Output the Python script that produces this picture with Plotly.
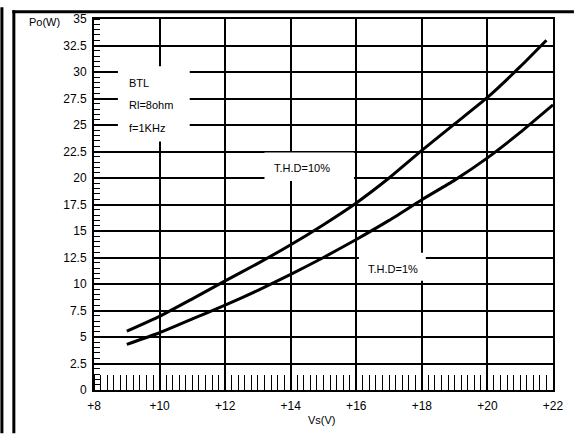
import plotly.graph_objects as go

# Supply voltage (V) and output power (W) at the two distortion limits
vs_thd10 = [9, 10, 11, 12, 13, 14, 15, 16, 17, 18, 19, 20, 21, 21.8]
po_thd10 = [5.55, 6.95, 8.6, 10.3, 11.95, 13.7, 15.6, 17.65, 20.0, 22.6, 25.1, 27.6, 30.5, 33.0]

vs_thd1 = [9, 10, 11, 12, 13, 14, 15, 16, 17, 18, 19, 20, 21, 22]
po_thd1 = [4.3, 5.4, 6.7, 8.0, 9.4, 10.9, 12.5, 14.2, 16.0, 17.95, 19.8, 21.9, 24.3, 26.9]

x_tick_vals = [8, 10, 12, 14, 16, 18, 20, 22]
x_tick_text = ["+8", "+10", "+12", "+14", "+16", "+18", "+20", "+22"]
y_tick_vals = [0, 2.5, 5, 7.5, 10, 12.5, 15, 17.5, 20, 22.5, 25, 27.5, 30, 32.5, 35]
y_tick_text = ["0", "2.5", "5", "7.5", "10", "12.5", "15", "17.5", "20", "22.5", "25", "27.5", "30", "32.5", "35"]

conditions = ["BTL", "Rl=8ohm", "f=1KHz"]
curve_labels = ["T.H.D=10%", "T.H.D=1%"]

W, H = 576, 434
ML, MR, MT, MB = 94, 21, 12, 44
PW, PH = W - ML - MR, H - MT - MB
FONT = "Liberation Sans, Arial, sans-serif"


def px_x(px):
    return (px - ML) / PW


def px_y(py):
    return (H - MB - py) / PH


fig = go.Figure()
for xs, ys in ((vs_thd10, po_thd10), (vs_thd1, po_thd1)):
    fig.add_trace(go.Scatter(
        x=xs, y=ys, mode="lines",
        line=dict(color="#000000", width=3, shape="spline", smoothing=0.5),
        showlegend=False, hoverinfo="skip",
    ))

shapes = []
# white panels behind the in-plot labels
for x0, x1, y0, y1 in ((8.73, 10.92, 23.45, 30.55),
                       (13.2, 15.93, 19.72, 22.4),
                       (16.08, 18.12, 10.3, 12.95)):
    shapes.append(dict(type="rect", xref="x", yref="y", x0=x0, x1=x1, y0=y0, y1=y1,
                       fillcolor="white", line=dict(width=0), layer="above"))

# page frame: double rule on the left, heavy rule across the top
shapes.append(dict(type="line", xref="paper", yref="paper",
                   x0=px_x(1.5), x1=px_x(1.5), y0=px_y(H), y1=px_y(0),
                   line=dict(color="black", width=3)))
shapes.append(dict(type="line", xref="paper", yref="paper",
                   x0=px_x(13.5), x1=px_x(13.5), y0=px_y(H), y1=px_y(3),
                   line=dict(color="black", width=3)))
shapes.append(dict(type="line", xref="paper", yref="paper",
                   x0=px_x(12), x1=px_x(W), y0=px_y(4.5), y1=px_y(4.5),
                   line=dict(color="black", width=3)))

annotations = []
for i, t in enumerate(conditions):
    annotations.append(dict(x=9.0, y=28.98 - i * 2.13, xref="x", yref="y", text=t,
                            showarrow=False, xanchor="left", yanchor="middle",
                            font=dict(family=FONT, size=11, color="black")))
annotations.append(dict(x=14.33, y=20.93, xref="x", yref="y", text=curve_labels[0],
                        showarrow=False, font=dict(family=FONT, size=11, color="black")))
annotations.append(dict(x=17.11, y=11.39, xref="x", yref="y", text=curve_labels[1],
                        showarrow=False, font=dict(family=FONT, size=11, color="black")))
annotations.append(dict(x=px_x(62), y=px_y(15), xref="paper", yref="paper", text="Po(W)",
                        showarrow=False, xanchor="right", yanchor="middle",
                        font=dict(family=FONT, size=11, color="black")))
annotations.append(dict(x=px_x(323), y=px_y(421), xref="paper", yref="paper", text="Vs(V)",
                        showarrow=False, xanchor="center", yanchor="middle",
                        font=dict(family=FONT, size=11, color="black")))

fig.update_layout(
    width=W, height=H,
    margin=dict(l=ML, r=MR, t=MT, b=MB, pad=0),
    paper_bgcolor="white", plot_bgcolor="white",
    font=dict(family=FONT, size=12, color="black"),
    shapes=shapes, annotations=annotations,
)
fig.update_xaxes(
    range=[8, 22], tickmode="array", tickvals=x_tick_vals, ticktext=x_tick_text,
    ticks="", showgrid=True, gridcolor="black", gridwidth=1.5,
    showline=True, linecolor="black", linewidth=2, mirror=True, zeroline=False,
    ticklabelstandoff=4,
    minor=dict(dtick=0.2, tick0=8, ticks="inside", ticklen=15, tickwidth=1,
               tickcolor="black", showgrid=False),
    tickfont=dict(family=FONT, size=12, color="black"),
)
fig.update_yaxes(
    range=[0, 35], tickmode="array", tickvals=y_tick_vals, ticktext=y_tick_text,
    ticks="", showgrid=True, gridcolor="black", gridwidth=1.5,
    showline=True, linecolor="black", linewidth=2, mirror=True, zeroline=False,
    ticklabelstandoff=3,
    minor=dict(dtick=0.5, tick0=0, ticks="inside", ticklen=6, tickwidth=1,
               tickcolor="black", showgrid=False),
    tickfont=dict(family=FONT, size=12, color="black"),
)

fig.write_html("out.html")
